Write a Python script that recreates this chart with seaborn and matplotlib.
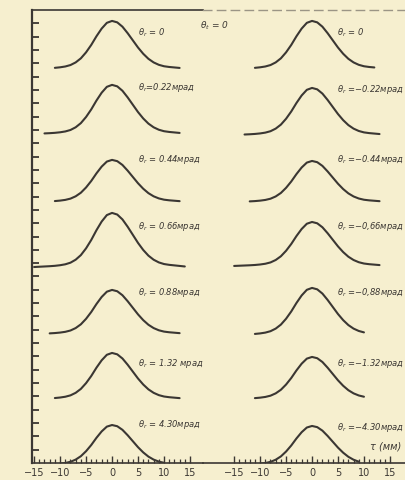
import numpy as np
import pandas as pd
import matplotlib
matplotlib.use("Agg")
import matplotlib.pyplot as plt
import seaborn as sns

# ---- data ----
tau = list(range(-15, 15))                      # tau (mm) sample grid
shape = [0.0, 0.005, 0.01, 0.015, 0.022, 0.033, 0.05, 0.08, 0.135, 0.22,
         0.345, 0.50, 0.68, 0.84, 0.96, 1.0, 0.97, 0.88, 0.745, 0.595,
         0.445, 0.315, 0.21, 0.135, 0.085, 0.055, 0.04, 0.03, 0.02, 0.01]

left_labels = [r"$\theta_r$ = 0", r"$\theta_r$=0.22мрад", r"$\theta_r$ = 0.44мрад",
               r"$\theta_r$ = 0.66мрад", r"$\theta_r$ = 0.88мрад",
               r"$\theta_r$ = 1.32 мрад", r"$\theta_r$ = 4.30мрад"]
right_labels = [r"$\theta_r$ = 0", r"$\theta_r$ =−0.22мрад", r"$\theta_r$ =−0.44мрад",
                r"$\theta_r$ =−0,66мрад", r"$\theta_r$ =−0,88мрад",
                r"$\theta_r$ =−1.32мрад", r"$\theta_r$ =−4.30мрад"]

left_peak = [33.18, 28.38, 22.75, 18.77, 12.99, 8.26, 2.85]
left_base = [29.58, 24.70, 19.59, 14.71, 9.68, 4.80, -0.15]
left_start = [-11, -13, -11, -15, -12, -11, -10]
left_end = [13, 13, 13, 14, 13, 13, 10]

right_peak = [33.18, 28.15, 22.67, 18.09, 13.14, 7.96, 2.78]
right_base = [29.58, 24.62, 19.59, 14.79, 9.61, 4.80, -0.15]
right_start = [-11, -13, -12, -15, -11, -11, -10]
right_end = [12, 13, 13, 13, 10, 10, 9]

left_label_y = [32.36, 28.23, 22.82, 17.79, 12.84, 7.58, 2.93]
right_label_y = [32.36, 28.08, 22.82, 17.79, 12.84, 7.58, 2.75]

xtick_vals = [-15, -10, -5, 0, 5, 10, 15]
xtick_text = ["−15", "−10", "−5", "0", "5", "10", "15"]

BG = "#f6efcf"
INK = "#3b3733"

sns.set_style("ticks")
plt.rcParams["font.family"] = ["DejaVu Sans"]


def curves_frame(peaks, bases, starts, ends):
    rows = []
    for i, (p, b, s, e) in enumerate(zip(peaks, bases, starts, ends)):
        for t, v in zip(tau, shape):
            if s <= t <= e:
                rows.append({"curve": i, "tau": t, "I": b + (p - b) * v})
    return pd.DataFrame(rows)


fig = plt.figure(figsize=(4.06, 4.81), dpi=100, facecolor=BG)
bottom = 17 / 481
height = 453 / 481
axL = fig.add_axes([32 / 406, bottom, 171 / 406, height])
axR = fig.add_axes([0.5, bottom, 0.5, height])

for ax, pk, bs, st, en, xl in [
    (axL, left_peak, left_base, left_start, left_end, (-15.4, 17.5)),
    (axR, right_peak, right_base, right_start, right_end, (-21.0, 18.1)),
]:
    ax.patch.set_visible(False)
    df = curves_frame(pk, bs, st, en)
    sns.lineplot(data=df, x="tau", y="I", units="curve", estimator=None,
                 color=INK, lw=1.5, ax=ax, legend=False, sort=True)
    ax.set_xlim(*xl)
    ax.set_ylim(0, 34.0)
    ax.set_xlabel("")
    ax.set_ylabel("")
    ax.set_xticks(xtick_vals)
    ax.set_xticklabels(xtick_text)
    ax.set_xticks(range(-15, 16), minor=True)
    ax.tick_params(axis="x", which="major", direction="in", length=5, width=1.0,
                   pad=3, labelsize=7, colors=INK)
    ax.tick_params(axis="x", which="minor", direction="in", length=3, width=0.9,
                   colors=INK)
    ax.spines["bottom"].set_color(INK)
    ax.spines["bottom"].set_linewidth(1.2)
    ax.spines["right"].set_visible(False)

# left panel y axis
axL.set_yticks(range(1, 34))
axL.set_yticklabels([])
axL.tick_params(axis="y", direction="in", length=5, width=1.3, colors=INK)
axL.spines["left"].set_color(INK)
axL.spines["left"].set_linewidth(1.6)
axL.spines["top"].set_color(INK)
axL.spines["top"].set_linewidth(1.2)

axR.set_yticks([])
axR.spines["left"].set_visible(False)
axR.spines["top"].set_color("#9b9585")
axR.spines["top"].set_linewidth(1.0)
axR.spines["top"].set_linestyle((0, (6, 4)))

for ax, labs, ys, x0 in [(axL, left_labels, left_label_y, 5.0),
                         (axR, right_labels, right_label_y, 4.9)]:
    for lab, y in zip(labs, ys):
        ax.text(x0, y, lab, fontsize=6, color=INK, style="italic",
                ha="left", va="center", clip_on=False)

fig.text(200 / 406, 1 - 26 / 481, r"$\theta_t$ = 0", fontsize=6.5, color=INK,
         style="italic", ha="left", va="center")
fig.text(370 / 406, 1 - 447 / 481, "τ (мм)", fontsize=7, color=INK,
         style="italic", ha="left", va="center")

fig.savefig("out.png", dpi=100, facecolor=BG)
